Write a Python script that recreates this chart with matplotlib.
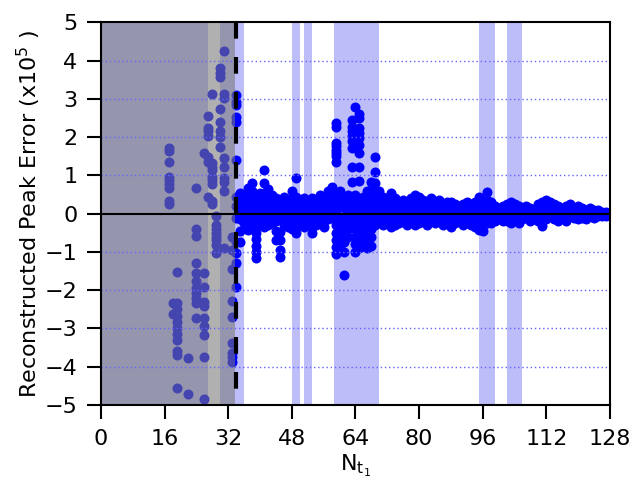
import matplotlib
matplotlib.use("Agg")
import matplotlib.pyplot as plt

plt.rcParams['font.family'] = ['DejaVu Sans']
plt.rcParams['mathtext.fontset'] = 'dejavusans'

# ---- data ----
# shaded (light blue) N_t1 intervals
band_start = [0, 30, 48, 51, 58.7, 95, 102]
band_end = [27, 36, 50, 53, 70, 99, 106]

# grey "excluded" region and the cut-off line
cut_nt = 34
grey_end = 33.8

# points hidden below the grey overlay
nt_grey = [17, 18, 19, 22, 24, 26, 27, 28, 29, 30, 31, 33]
err_grey = [
    [1.73, 1.65, 1.36, 0.97, 0.88, 0.78, 0.67, 0.32, 0.26],
    [-2.34, -2.62],
    [-1.53, -2.34, -2.50, -2.67, -2.84, -3.0, -3.15, -3.3, -3.58, -3.70, -4.56],
    [-3.78, -4.72],
    [0.68, -0.41, -0.58, -1.30, -1.56, -1.76, -1.95, -2.08, -2.21, -2.34, -2.73],
    [1.6, -1.56, -1.91, -2.30, -2.41, -2.73, -2.93, -3.17, -3.74, -4.84],
    [2.56, 2.23, 2.17, 2.03, 1.49, 1.36, 0.43],
    [3.12, 1.32, 1.23, 1.13, 0.97, 0.88, 0.78, 0.32, 0.25],
    [-0.06, -0.29, -0.41, -0.51, -0.62, -0.70, -0.82, -1.03],
    [3.82, 3.67, 3.57, 2.73, 2.41, 2.15, 2.01, 1.75],
    [4.26, 3.12, 3.02, 1.45, 1.21, 0.93, 0.84, 0.60, -0.89],
    [-0.60, -0.95, -1.44, -2.28, -2.71, -3.37, -3.63, -3.74, -3.87],
]

# visible points, N_t1 = 34 .. 128
nt_blue = list(range(34, 129))
err_blue = [
    [3.10, 2.93, 2.84, 2.54, 2.41, 1.41, 0.45, 0.2, -0.1, -0.73, -1.03, -1.30, -1.91],  # 34
    [0.53, 0.3, 0.1, -0.15, -0.45, -0.73],
    [0.35, 0.2, 0.05, -0.1, -0.25],
    [0.67, 0.5, 0.35, 0.2, 0.05, -0.1, -0.25, -0.43],
    [0.8, 0.6, 0.4, 0.2, 0.0, -0.2],
    [0.45, 0.3, 0.1, -0.1, -0.34, -0.5, -0.67, -0.84, -1.0, -1.17],
    [0.55, 0.4, 0.2, 0.0, -0.2],  # 40
    [1.13, 0.8, 0.55, 0.3, 0.1, -0.15, -0.35],
    [0.65, 0.45, 0.25, 0.05, -0.1, -0.3],
    [0.5, 0.3, 0.1, -0.1, -0.25],
    [0.4, 0.2, 0.0, -0.2, -0.45, -0.69],
    [0.3, 0.1, -0.1, -0.47, -0.69, -0.95, -1.12],
    [0.45, 0.25, 0.05, -0.15, -0.3],
    [0.3, 0.15, 0.0, -0.2, -0.35],
    [0.6, 0.4, 0.2, 0.0, -0.2, -0.4],
    [0.93, 0.45, 0.25, 0.05, -0.15, -0.35, -0.5],
    [0.35, 0.15, 0.0, -0.2],  # 50
    [0.4, 0.2, 0.0, -0.2, -0.35],
    [0.3, 0.15, -0.05, -0.25],
    [0.4, 0.2, 0.05, -0.15, -0.35, -0.5],
    [0.35, 0.2, 0.0, -0.2, -0.3],
    [0.5, 0.3, 0.1, -0.1, -0.25],
    [0.4, 0.2, 0.0, -0.2, -0.35],
    [0.6, 0.4, 0.2, 0.0, -0.15],
    [0.7, 0.45, 0.25, 0.05, -0.1],
    [2.36, 2.28, 1.84, 1.76, 1.67, 1.58, 1.5, 1.36, 0.5, 0.3, 0.1, -0.1, -0.3, -0.5, -0.7, -0.86, -1.05],
    [0.6, 0.4, 0.2, -0.1, -0.3, -0.5, -0.7, -0.9],  # 60
    [0.35, 0.15, -0.1, -0.3, -0.55, -0.75, -1.0, -1.6],
    [0.5, 0.25, 0.0, -0.2, -0.4, -0.6],
    [2.45, 2.28, 2.15, 2.02, 1.89, 1.72, 1.21, 0.84, 0.40, 0.15, -0.1, -0.3],
    [2.8, 0.5, 0.3, 0.1, -0.17, -0.4, -0.6, -0.8, -0.99],
    [2.62, 2.49, 2.23, 2.10, 1.97, 1.80, 1.58, 1.21, 0.86, 0.14, -0.1, -0.3, -0.5, -0.7, -0.9],
    [0.45, 0.25, 0.05, -0.2, -0.4, -0.6, -0.85],
    [0.6, 0.4, 0.2, 0.0, -0.2, -0.45, -0.7, -0.9],
    [0.84, 0.62, 0.4, 0.2, 0.0, -0.2, -0.4, -0.6, -0.85],
    [1.47, 1.1, 0.8, 0.55, 0.3, 0.1, -0.1, -0.3],
    [0.6, 0.4, 0.2, 0.0, -0.15],  # 70
    [0.45, 0.25, 0.05, -0.15, -0.3],
    [0.35, 0.15, -0.05, -0.2],
    [0.55, 0.35, 0.15, -0.05, -0.25, -0.35],
    [0.4, 0.2, 0.0, -0.2, -0.3],
    [0.3, 0.1, -0.1, -0.25],
    [0.35, 0.15, -0.05, -0.2],
    [0.3, 0.1, -0.1, -0.3],
    [0.4, 0.2, 0.0, -0.2],
    [0.5, 0.3, 0.1, -0.1, -0.3],
    [0.45, 0.25, 0.05, -0.15, -0.25],  # 80
    [0.35, 0.15, -0.05, -0.2],
    [0.3, 0.1, -0.1, -0.3],
    [0.4, 0.2, 0.0, -0.2],
    [0.3, 0.1, -0.1, -0.25],
    [0.35, 0.15, -0.05, -0.2],
    [0.25, 0.1, -0.1, -0.3],
    [0.3, 0.1, -0.05, -0.2],
    [0.3, 0.1, -0.1, -0.35],
    [0.25, 0.05, -0.1, -0.25],
    [0.2, 0.05, -0.1, -0.2],  # 90
    [0.25, 0.1, -0.05, -0.3],
    [0.3, 0.1, -0.1, -0.25],
    [0.25, 0.05, -0.15, -0.3],
    [0.3, 0.1, -0.1, -0.35],
    [0.44, 0.2, 0.0, -0.2, -0.43],
    [0.3, 0.1, -0.1, -0.3, -0.45],
    [0.57, 0.35, 0.15, -0.05, -0.25],
    [0.3, 0.1, -0.1, -0.25],
    [0.2, 0.05, -0.1, -0.2],
    [0.15, 0.0, -0.15],  # 100
    [0.2, 0.05, -0.1, -0.2],
    [0.25, 0.1, -0.05, -0.2],
    [0.3, 0.1, -0.1, -0.25],
    [0.25, 0.05, -0.1],
    [0.2, 0.05, -0.15, -0.25],
    [0.15, 0.0, -0.15],
    [0.2, 0.05, -0.1],
    [0.15, 0.0, -0.1, -0.2],
    [0.1, -0.05, -0.15],
    [0.25, 0.05, -0.1, -0.2],  # 110
    [0.3, 0.1, -0.1, -0.32],
    [0.36, 0.15, 0.0, -0.15],
    [0.3, 0.1, -0.05],
    [0.25, 0.1, -0.05, -0.15],
    [0.2, 0.05, -0.1, -0.2],
    [0.15, 0.0, -0.1],
    [0.2, 0.05, -0.1, -0.2],
    [0.25, 0.1, -0.05],
    [0.15, 0.0, -0.1],
    [0.2, 0.05, -0.05, -0.15],  # 120
    [0.15, 0.0, -0.1],
    [0.1, -0.05, -0.15],
    [0.15, 0.05, -0.05],
    [0.1, 0.0, -0.1],
    [0.1, 0.0, -0.05],
    [0.05, -0.05],
    [0.05, -0.05],
    [0.0],  # 128
]

xticks = [0, 16, 32, 48, 64, 80, 96, 112, 128]
yticks = [-5, -4, -3, -2, -1, 0, 1, 2, 3, 4, 5]
grid_levels = [-4, -3, -2, -1, 1, 2, 3, 4]


def flatten(xs, cols):
    px, py = [], []
    for x, col in zip(xs, cols):
        for v in col:
            px.append(x)
            py.append(v)
    return px, py


fig = plt.figure(figsize=(6.3, 4.8), dpi=100)
ax = fig.add_axes([0.1603, 0.1563, 0.8079, 0.7969])

for a, b in zip(band_start, band_end):
    ax.axvspan(a, b, color='#bdbdfa', lw=0, zorder=0)

gx, gy = flatten(nt_grey, err_grey)
bx, by = flatten(nt_blue, err_blue)
ax.scatter(gx + bx, gy + by, s=52, color='#0000ff', lw=0, zorder=2)

# grey overlay on top of the excluded points
ax.axvspan(0, grey_end, color='#787878', alpha=0.58, lw=0, zorder=3)

for lv in grid_levels:
    ax.axhline(lv, color='#6464ff', lw=1.0, ls=(0, (1, 2)), zorder=3.5)
ax.axhline(0, color='black', lw=1.5, zorder=4)
ax.plot([cut_nt, cut_nt], [5, -5], color='black', lw=3, dashes=(4, 4.4),
        solid_capstyle='butt', dash_capstyle='butt', zorder=5)

ax.set_xlim(0, 128)
ax.set_ylim(-5, 5)
ax.set_xticks(xticks)
ax.set_yticks(yticks)
ax.tick_params(direction='out', length=10, width=1.5, pad=7, labelsize=16)
for sp in ax.spines.values():
    sp.set_linewidth(1.5)
    sp.set_zorder(6)

ax.set_xlabel(r'N$_{\mathrm{t}_{\mathrm{1}}}$', fontsize=16, labelpad=3)
ax.set_ylabel(r'Reconstructed Peak Error (x10$^5$ )', fontsize=16, labelpad=1)

plt.savefig('out.png', dpi=100)
